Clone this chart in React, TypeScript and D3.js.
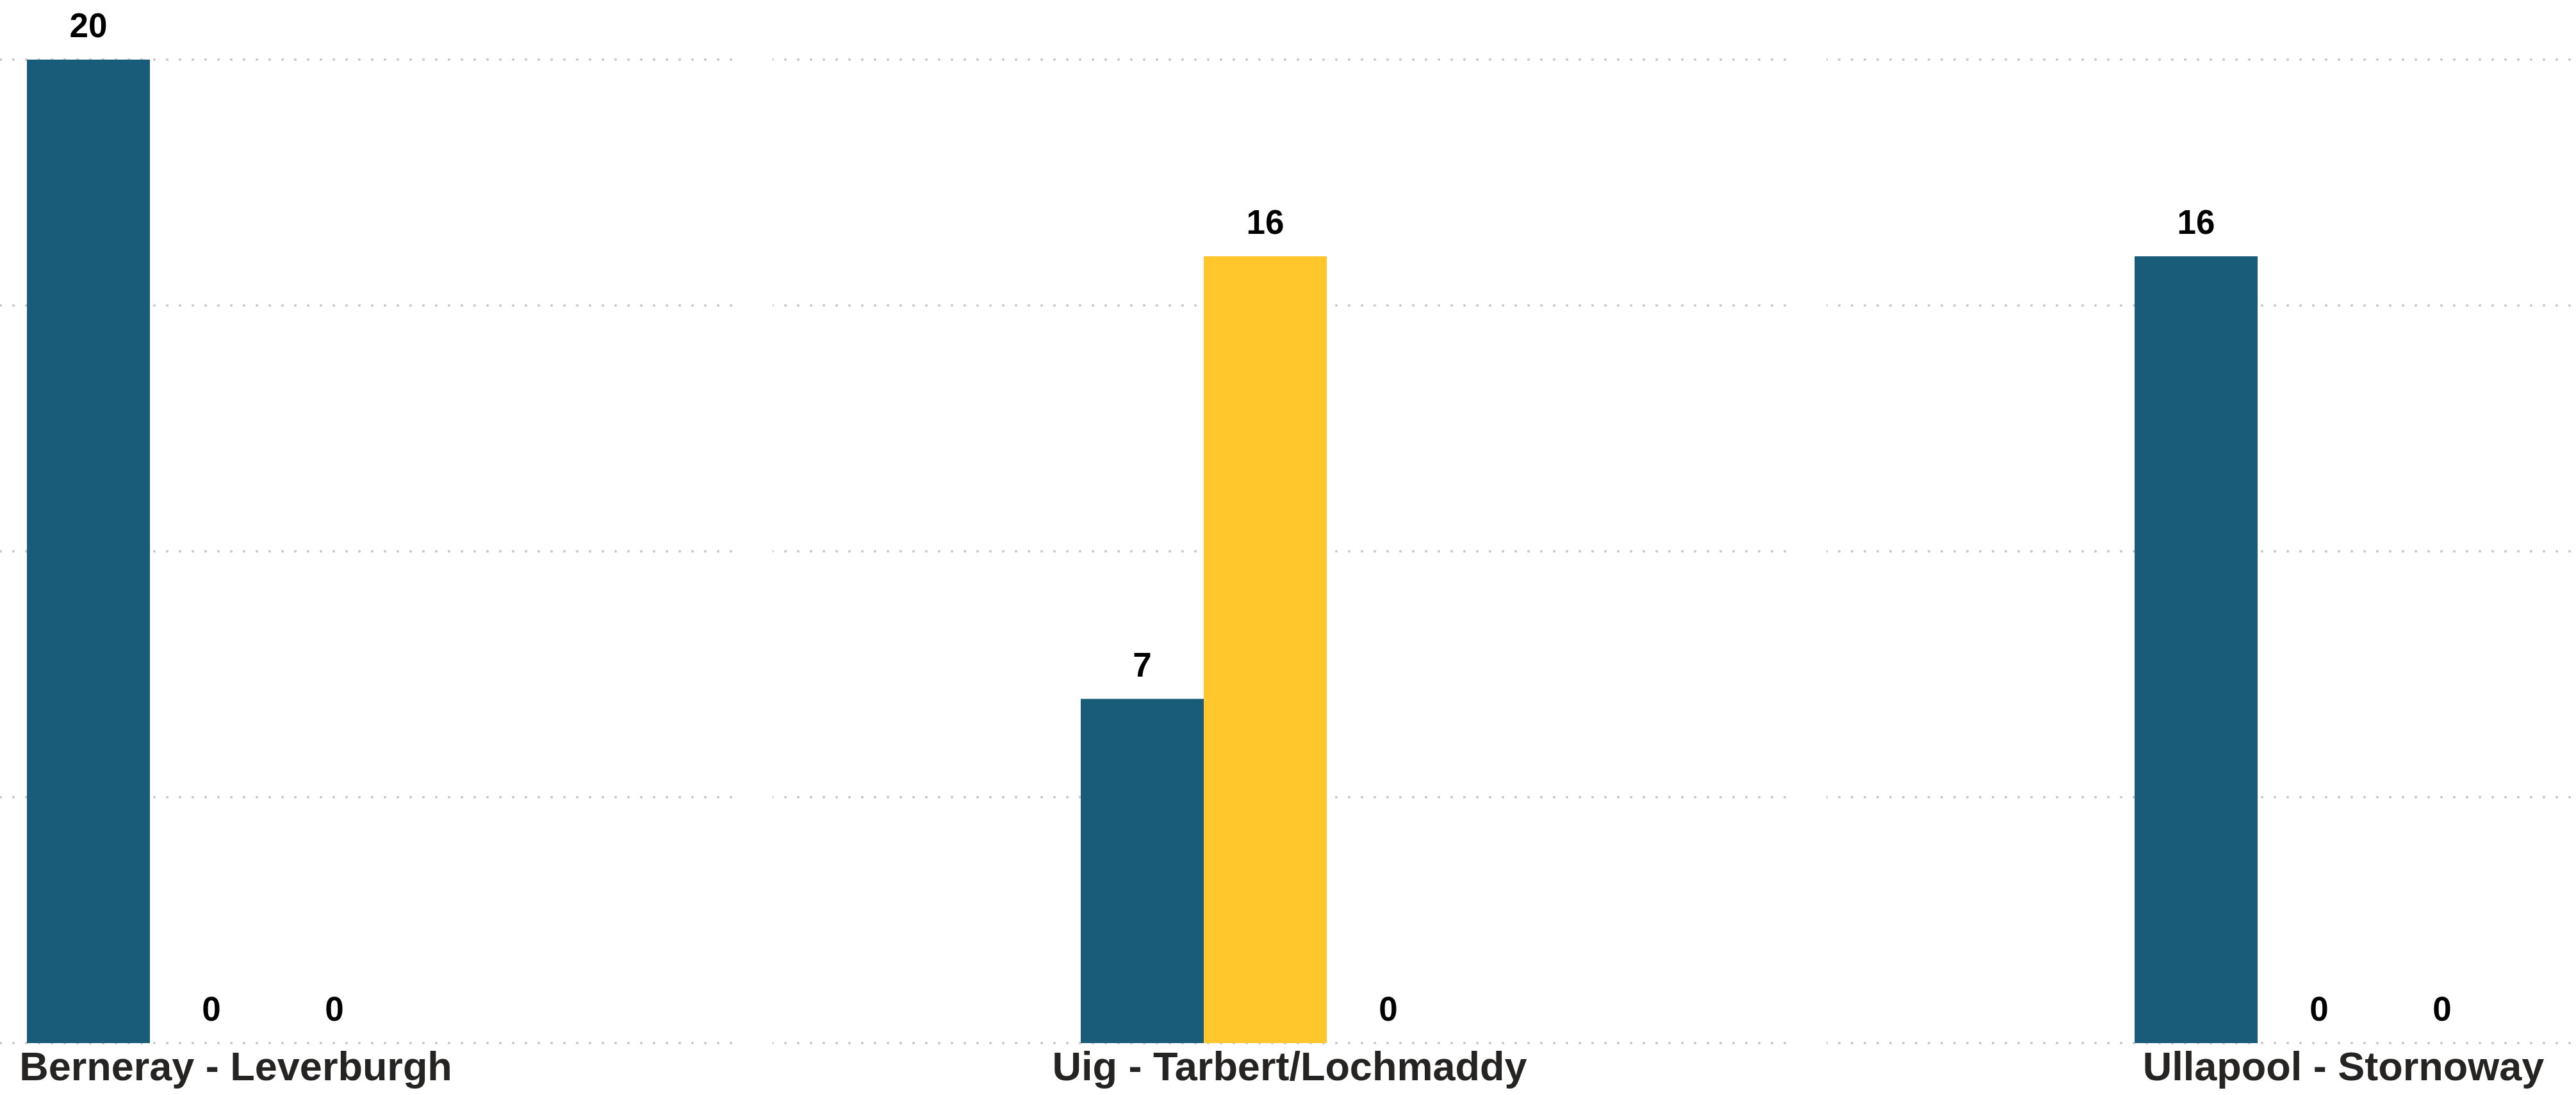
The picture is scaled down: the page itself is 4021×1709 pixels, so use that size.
import React from "react";
import * as d3 from "d3";

const routes = ["Berneray - Leverburgh", "Uig - Tarbert/Lochmaddy", "Ullapool - Stornoway"];
const seriesNames = ["Series 1", "Series 2", "Series 3"];
const series1 = [20, 7, 16];
const series2 = [0, 16, 0];
const series3 = [0, 0, 0];
const yTicks = [0, 5, 10, 15, 20];
const seriesColors = ["#185c7a", "#ffc72c", "#8a8a8a"];

const W = 4021;
const H = 1709;

export default function App() {
  const values = [series1, series2, series3];
  const step = 1645;
  const gap = 62;
  const x0 = d3
    .scaleBand<string>()
    .domain(routes)
    .range([-439, -439 + 3 * step - gap])
    .paddingInner(gap / step)
    .paddingOuter(0);
  const pw = x0.bandwidth();
  const x1 = d3.scaleBand<string>().domain(seriesNames).range([481, 1057]).padding(0);
  const y = d3.scaleLinear().domain([0, 20]).range([1628, 93]);
  const font = "'Liberation Sans', Arial, Helvetica, sans-serif";

  return (
    <svg
      width={W}
      height={H}
      style={{ position: "absolute", left: 0, top: 0, display: "block", background: "#fff" }}
    >
      <defs>
        {routes.map((r, i) => (
          <clipPath id={`clip${i}`} key={r}>
            <rect x={x0(r)} y={0} width={pw} height={H} />
          </clipPath>
        ))}
      </defs>
      {routes.map((r, i) => {
        const px = x0(r) as number;
        return (
          <g key={r}>
            <g clipPath={`url(#clip${i})`}>
              {yTicks.map((t) => (
                <line
                  key={t}
                  x1={px}
                  x2={px + pw}
                  y1={y(t)}
                  y2={y(t)}
                  stroke="#c8c8c8"
                  strokeWidth={4.2}
                  strokeDasharray="0 20"
                  strokeLinecap="round"
                />
              ))}
            </g>
            {seriesNames.map((s, si) => {
              const v = values[si][i];
              const bx = px + (x1(s) as number);
              return (
                <g key={s}>
                  {v > 0 && (
                    <rect
                      x={bx}
                      y={y(v)}
                      width={x1.bandwidth()}
                      height={y(0) - y(v)}
                      fill={seriesColors[si]}
                    />
                  )}
                  <text
                    x={bx + x1.bandwidth() / 2}
                    y={y(v) - 35}
                    textAnchor="middle"
                    fontFamily={font}
                    fontWeight="bold"
                    fontSize={53}
                    fill="#000"
                  >
                    {v}
                  </text>
                </g>
              );
            })}
            <text
              x={px + 807}
              y={1686}
              textAnchor="middle"
              fontFamily={font}
              fontWeight="bold"
              fontSize={63}
              fill="#252423"
            >
              {r}
            </text>
          </g>
        );
      })}
    </svg>
  );
}
